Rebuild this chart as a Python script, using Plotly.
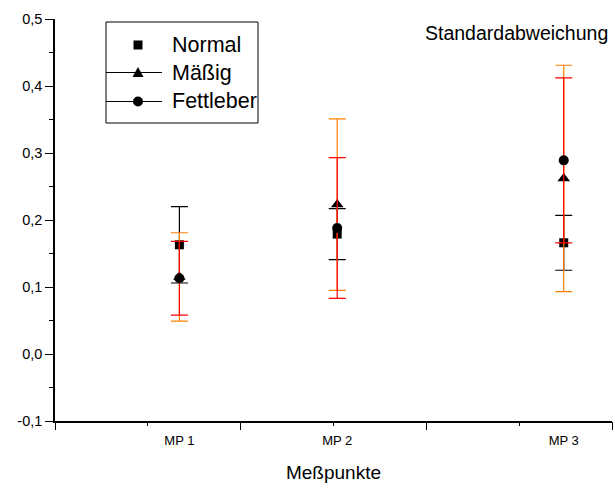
import plotly.graph_objects as go

# ---------------- data ----------------
mp_labels = ["MP 1", "MP 2", "MP 3"]
mp_x = [0.67, 1.52, 2.74]

normal = [0.163, 0.179, 0.166]
normal_sd = [0.057, 0.038, 0.041]

maessig = [0.115, 0.223, 0.262]
maessig_sd = [0.066, 0.128, 0.169]

fett = [0.113, 0.188, 0.289]
fett_sd = [0.055, 0.105, 0.123]

y_ticks = [-0.1, 0.0, 0.1, 0.2, 0.3, 0.4, 0.5]
y_ticktext = ["-0,1", "0,0", "0,1", "0,2", "0,3", "0,4", "0,5"]
x_major = [0, 1, 2, 3]

FONT = "Liberation Sans, Arial, sans-serif"
W, H = 615, 489
L, R, T, B = 55, 3, 19, 68
PW, PH = W - L - R, H - T - B


def px(p):
    return (p - L) / PW


def py(p):
    return (H - B - p) / PH


fig = go.Figure()

series = [
    ("Normal", normal, normal_sd, "square", 9, "#000000"),
    ("Mäßig", maessig, maessig_sd, "triangle-up", 11, "#FF8000"),
    ("Fettleber", fett, fett_sd, "circle", 10, "#FF0000"),
]
for name, vals, sd, sym, size, ecol in series:
    fig.add_trace(go.Scatter(
        x=mp_x, y=vals, mode="markers", name=name, showlegend=False,
        marker=dict(symbol=sym, size=size, color="black", line=dict(width=0)),
        error_y=dict(type="data", array=sd, visible=True, color=ecol,
                     thickness=1.2, width=8.5),
    ))

# dummy trace for the tick-mark axis
fig.add_trace(go.Scatter(x=[None], y=[None], xaxis="x2", yaxis="y",
                         showlegend=False, hoverinfo="skip"))

# ---------------- manual legend ----------------
shapes = []
annotations = []
lx0, ly0, lx1, ly1 = 106, 22, 258, 123
shapes.append(dict(type="rect", xref="paper", yref="paper",
                   x0=px(lx0), x1=px(lx1), y0=py(ly1), y1=py(ly0),
                   line=dict(color="black", width=1), fillcolor="white",
                   layer="above"))
rows = [45, 72.5, 101.5]
mx = 138
for i, (name, _, _, sym, _, _) in enumerate(series):
    yc = rows[i]
    if i > 0:
        shapes.append(dict(type="line", xref="paper", yref="paper",
                           x0=px(lx0), x1=px(162), y0=py(yc), y1=py(yc),
                           line=dict(color="black", width=1), layer="above"))
    if sym == "square":
        shapes.append(dict(type="rect", xref="paper", yref="paper",
                           x0=px(mx - 4.5), x1=px(mx + 4.5),
                           y0=py(yc + 4.5), y1=py(yc - 4.5),
                           line=dict(width=0), fillcolor="black", layer="above"))
    elif sym == "triangle-up":
        p = "M {} {} L {} {} L {} {} Z".format(
            px(mx - 5.5), py(yc + 4.5), px(mx + 5.5), py(yc + 4.5),
            px(mx), py(yc - 5.5))
        shapes.append(dict(type="path", xref="paper", yref="paper", path=p,
                           line=dict(width=0), fillcolor="black", layer="above"))
    else:
        shapes.append(dict(type="circle", xref="paper", yref="paper",
                           x0=px(mx - 5), x1=px(mx + 5),
                           y0=py(yc + 5), y1=py(yc - 5),
                           line=dict(width=0), fillcolor="black", layer="above"))
    annotations.append(dict(text=name, xref="paper", yref="paper",
                            x=px(170), y=py(yc), xanchor="left", yanchor="middle",
                            showarrow=False,
                            font=dict(family=FONT, size=21.5, color="black")))

annotations.append(dict(text="Standardabweichung", xref="paper", yref="paper",
                        x=px(610), y=py(33), xanchor="right", yanchor="middle",
                        showarrow=False,
                        font=dict(family=FONT, size=19.5, color="black")))

fig.update_layout(
    width=W, height=H,
    margin=dict(l=L, r=R, t=T, b=B, pad=0),
    paper_bgcolor="white", plot_bgcolor="white",
    font=dict(family=FONT, size=12, color="black"),
    showlegend=False,
    shapes=shapes, annotations=annotations,
    xaxis=dict(
        range=[0, 3], tickvals=mp_x, ticktext=mp_labels, ticks="",
        ticklabelstandoff=7,
        showline=True, linecolor="black", linewidth=1.5, showgrid=False,
        zeroline=False, tickfont=dict(family=FONT, size=13),
        title=dict(text="Meßpunkte", font=dict(family=FONT, size=19),
                   standoff=18),
    ),
    xaxis2=dict(
        range=[0, 3], overlaying="x", anchor="y", side="bottom",
        tickvals=x_major, ticks="outside", ticklen=8, tickwidth=1.2,
        tickcolor="black", showticklabels=False, showline=False,
        showgrid=False, zeroline=False,
        minor=dict(tickmode="array", tickvals=[0.5, 1.5, 2.5], ticks="outside",
                   ticklen=4, tickwidth=1.2, tickcolor="black", showgrid=False),
    ),
    yaxis=dict(
        range=[-0.1, 0.5], tickvals=y_ticks, ticktext=y_ticktext,
        ticks="outside", ticklen=8, tickwidth=1.2, tickcolor="black",
        showline=True, linecolor="black", linewidth=1.5, showgrid=False,
        zeroline=False, tickfont=dict(family=FONT, size=14.5),
        minor=dict(tickmode="array",
                   tickvals=[-0.05, 0.05, 0.15, 0.25, 0.35, 0.45],
                   ticks="outside", ticklen=4, tickwidth=1.2,
                   tickcolor="black", showgrid=False),
    ),
)

fig.write_html("out.html")
